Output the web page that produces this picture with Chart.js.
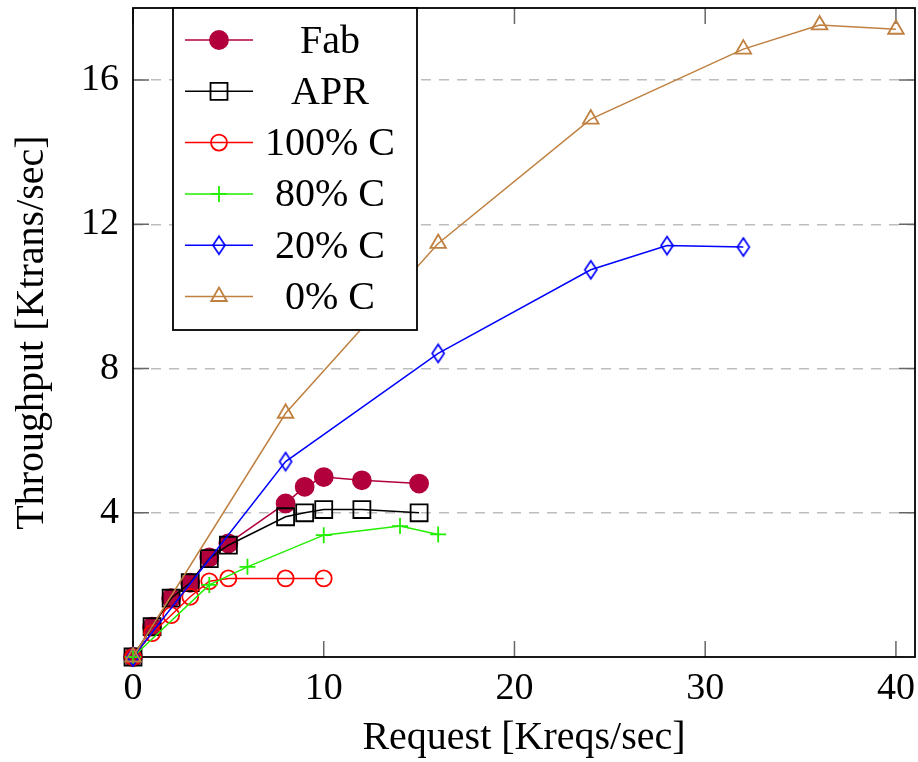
<!DOCTYPE html>
<html>
<head>
<meta charset="utf-8">
<script src="https://cdn.jsdelivr.net/npm/chart.js@4.4.0/dist/chart.umd.min.js"></script>
<style>
    html, body { margin: 0; padding: 0; background: #fff; }
    #wrap { width: 918px; height: 762px; }
</style>
</head>
<body>
<div id="wrap"><canvas id="tput_chart" width="918" height="762"></canvas></div>
<script>
// request rate (Kreqs/sec) vs throughput (Ktrans/sec)
const fabX = [0, 1, 2, 3, 4, 5, 8, 9, 10, 12, 15];
const fabY = [0, 0.84, 1.63, 2.06, 2.76, 3.15, 4.26, 4.72, 4.99, 4.90, 4.81];

const aprX = [0, 1, 2, 3, 4, 5, 8, 9, 10, 12, 15];
const aprY = [0, 0.84, 1.63, 2.06, 2.73, 3.10, 3.89, 4.00, 4.09, 4.09, 4.00];

const c100X = [0, 1, 2, 3, 4, 5, 8, 10];
const c100Y = [0, 0.66, 1.16, 1.67, 2.10, 2.18, 2.18, 2.18];

const c80X = [0, 4, 6, 10, 14, 16];
const c80Y = [0, 2.00, 2.50, 3.38, 3.63, 3.40];

const c20X = [0, 8, 16, 24, 28, 32];
const c20Y = [0, 5.42, 8.42, 10.74, 11.41, 11.37];

const c0X = [0, 8, 16, 24, 32, 36, 40];
const c0Y = [0, 6.76, 11.47, 14.92, 16.86, 17.53, 17.41];

const xTicks = [0, 10, 20, 30, 40];
const yTicks = [4, 8, 12, 16];

const FONT = '"Liberation Serif", "DejaVu Serif", serif';
const PLOT_RIGHT = 915;
const PLOT_TOP = 8;

// pgfplots style diamond is taller than wide, chart.js rectRot isn't
function makeDiamond(color) {
    const c = document.createElement('canvas');
    c.width = 16;
    c.height = 22;
    const g = c.getContext('2d');
    g.strokeStyle = color;
    g.lineWidth = 1.7;
    g.beginPath();
    g.moveTo(8, 2);
    g.lineTo(14, 11);
    g.lineTo(8, 20);
    g.lineTo(2, 11);
    g.closePath();
    g.stroke();
    return c;
}

function makeSet(label, xs, ys, color, style, radius, filled) {
    return {
        label: label,
        data: xs.map((x, i) => ({x: x, y: ys[i]})),
        borderColor: color,
        backgroundColor: filled ? color : 'rgba(0,0,0,0)',
        borderWidth: 1.5,
        pointStyle: style,
        pointRadius: radius,
        pointBorderWidth: 1.8,
        pointBorderColor: color,
        pointBackgroundColor: filled ? color : 'rgba(0,0,0,0)',
        showLine: true,
        fill: false,
        tension: 0,
        clip: false
    };
}

const datasets = [
    makeSet('Fab', fabX, fabY, 'rgb(178,0,60)', 'circle', 9, true),
    makeSet('APR', aprX, aprY, '#000000', 'rect', 12, false),
    makeSet('100% C', c100X, c100Y, '#ff0000', 'circle', 8, false),
    makeSet('80% C', c80X, c80Y, '#22ee00', 'cross', 8, false),
    makeSet('20% C', c20X, c20Y, '#0000ff', makeDiamond('#0000ff'), 8, false),
    makeSet('0% C', c0X, c0Y, '#bf8040', 'triangle', 9, false)
];
// later series paint on top, like the original
datasets.forEach((d, i) => { d.order = datasets.length - i; });

// chart.js keeps room for the outer tick labels, stretch the plot back out
const stretchPlugin = {
    id: 'stretch',
    afterLayout(chart) {
        const xs = chart.scales.x;
        const ys = chart.scales.y;
        const area = chart.chartArea;
        area.right = PLOT_RIGHT;
        area.width = area.right - area.left;
        area.top = PLOT_TOP;
        area.height = area.bottom - area.top;
        xs.right = PLOT_RIGHT;
        xs.width = xs.right - xs.left;
        xs.configure();
        ys.top = PLOT_TOP;
        ys.height = ys.bottom - ys.top;
        ys.configure();
    }
};

// frame + inward tick marks
const framePlugin = {
    id: 'frame',
    beforeDatasetsDraw(chart) {
        const ctx = chart.ctx;
        const a = chart.chartArea;
        const xs = chart.scales.x;
        const ys = chart.scales.y;
        const len = 16;
        ctx.save();
        ctx.strokeStyle = '#666';
        ctx.lineWidth = 1.5;
        ctx.beginPath();
        xTicks.forEach(v => {
            const px = xs.getPixelForValue(v);
            ctx.moveTo(px, a.bottom);
            ctx.lineTo(px, a.bottom - len);
            ctx.moveTo(px, a.top);
            ctx.lineTo(px, a.top + len);
        });
        yTicks.forEach(v => {
            const py = ys.getPixelForValue(v);
            ctx.moveTo(a.left, py);
            ctx.lineTo(a.left + len, py);
            ctx.moveTo(a.right, py);
            ctx.lineTo(a.right - len, py);
        });
        ctx.stroke();
        ctx.strokeStyle = '#000';
        ctx.lineWidth = 1.8;
        ctx.strokeRect(a.left, a.top, a.right - a.left, a.bottom - a.top);
        ctx.restore();
    }
};

// boxed legend in the top-left corner of the plot
const legendPlugin = {
    id: 'boxLegend',
    afterDraw(chart) {
        const ctx = chart.ctx;
        const box = {x: 173, y: 8, w: 244, h: 322};
        ctx.save();
        ctx.fillStyle = '#fff';
        ctx.fillRect(box.x, box.y, box.w, box.h);
        ctx.strokeStyle = '#000';
        ctx.lineWidth = 1.8;
        ctx.strokeRect(box.x, box.y, box.w, box.h);

        chart.data.datasets.forEach((ds, i) => {
            const y = 40 + i * 51.3;
            ctx.strokeStyle = ds.borderColor;
            ctx.lineWidth = ds.borderWidth;
            ctx.beginPath();
            ctx.moveTo(185, y);
            ctx.lineTo(253, y);
            ctx.stroke();

            ctx.fillStyle = ds.pointBackgroundColor;
            ctx.strokeStyle = ds.pointBorderColor;
            ctx.lineWidth = ds.pointBorderWidth;
            Chart.helpers.drawPoint(ctx, {
                pointStyle: ds.pointStyle,
                radius: ds.pointRadius,
                rotation: 0,
                borderWidth: ds.pointBorderWidth
            }, 219, y);

            ctx.fillStyle = '#000';
            ctx.font = '40px ' + FONT;
            ctx.textAlign = 'center';
            ctx.textBaseline = 'middle';
            ctx.fillText(ds.label, 330, y + 2);
        });
        ctx.restore();
    }
};

let tputChart;

window.onload = () => {
    const ctx = document.getElementById('tput_chart');
    tputChart = new Chart(ctx, {
        type: 'line',
        data: {datasets: datasets},
        options: {
            responsive: false,
            animation: false,
            devicePixelRatio: 1,
            layout: {padding: {top: 8, right: 3, left: 0, bottom: 0}},
            plugins: {
                legend: {display: false},
                tooltip: {enabled: false}
            },
            scales: {
                x: {
                    type: 'linear',
                    min: 0,
                    max: 41,
                    afterBuildTicks: s => { s.ticks = xTicks.map(v => ({value: v})); },
                    afterFit: s => {
                        s.height = 105;
                        s.paddingLeft = 0;
                        s.paddingRight = 0;
                    },
                    grid: {display: false, drawTicks: false},
                    border: {display: false},
                    ticks: {
                        autoSkip: false,
                        maxRotation: 0,
                        padding: 9,
                        color: '#000',
                        font: {family: FONT, size: 38}
                    },
                    title: {
                        display: true,
                        text: 'Request [Kreqs/sec]',
                        color: '#000',
                        font: {family: FONT, size: 40},
                        padding: {top: 0, bottom: 0}
                    }
                },
                y: {
                    type: 'linear',
                    min: 0,
                    max: 18,
                    afterBuildTicks: s => { s.ticks = yTicks.map(v => ({value: v})); },
                    afterFit: s => {
                        s.width = 133;
                        s.paddingTop = 0;
                        s.paddingBottom = 0;
                    },
                    grid: {color: '#bdbdbd', lineWidth: 1.5, drawTicks: false},
                    border: {display: false, dash: [10, 8]},
                    ticks: {
                        padding: 14,
                        color: '#000',
                        font: {family: FONT, size: 38}
                    },
                    title: {
                        display: true,
                        text: 'Throughput [Ktrans/sec]',
                        color: '#000',
                        font: {family: FONT, size: 40},
                        padding: {top: 8, bottom: 0}
                    }
                }
            }
        },
        plugins: [stretchPlugin, framePlugin, legendPlugin]
    });
};
</script>
</body>
</html>
